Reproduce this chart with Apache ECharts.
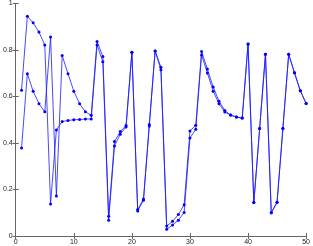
<!DOCTYPE html>
<html>
<head>
<meta charset="utf-8">
<script src="https://cdn.jsdelivr.net/npm/echarts@6/dist/echarts.min.js"></script>
<style>html,body{margin:0;padding:0;background:#fff;}#c{width:313px;height:246px;}</style>
</head>
<body>
<div id="c"></div>
<script>
var xValues = [1,2,3,4,5,6,7,8,9,10,11,12,13,14,15,16,17,18,19,20,21,22,23,24,25,26,27,28,29,30,31,32,33,34,35,36,37,38,39,40,41,42,43,44,45,46,47,48,49,50];
var seriesA = [0.627,0.945,0.917,0.877,0.822,0.138,0.456,0.492,0.497,0.500,0.501,0.503,0.503,0.822,0.749,0.068,0.387,0.438,0.469,0.790,0.108,0.154,0.473,0.796,0.715,0.029,0.047,0.068,0.101,0.421,0.459,0.779,0.701,0.623,0.569,0.533,0.520,0.512,0.507,0.826,0.144,0.462,0.782,0.100,0.145,0.462,0.782,0.702,0.625,0.570];
var seriesB = [0.378,0.698,0.623,0.569,0.534,0.856,0.172,0.776,0.698,0.623,0.569,0.534,0.519,0.837,0.772,0.085,0.406,0.449,0.475,0.790,0.114,0.159,0.480,0.796,0.726,0.043,0.063,0.092,0.134,0.452,0.476,0.794,0.718,0.641,0.580,0.540,0.520,0.512,0.507,0.826,0.144,0.462,0.782,0.100,0.145,0.462,0.782,0.702,0.625,0.570];
var xTicks = [0,10,20,30,40,50];
var yTicks = [0,0.2,0.4,0.6,0.8,1];

function pairs(vals){ return xValues.map(function(x,i){ return [x, vals[i]]; }); }

var axisCol = '#666';
var labelStyle = {color:'#222', fontSize:7, fontFamily:'Liberation Sans, Arial, sans-serif'};
var chart = echarts.init(document.getElementById('c'), null, {renderer:'canvas'});
var lineStyle = {color:'#1a1aff', width:0.8};
function mkSeries(vals){
  return {type:'line', data:pairs(vals), xAxisIndex:0, yAxisIndex:0, symbol:'circle', symbolSize:3,
    itemStyle:{color:'#0000ff'}, lineStyle:lineStyle, animation:false, emphasis:{disabled:true}};
}
chart.setOption({
  animation:false,
  grid:{left:12.5, right:3.7, top:1.5, bottom:10, containLabel:false},
  xAxis:[
    {type:'value', min:xTicks[0], max:xTicks[xTicks.length-1], interval:10, position:'bottom',
     axisLine:{show:true, lineStyle:{color:axisCol, width:1}}, axisTick:{show:true, inside:true, length:3, lineStyle:{color:axisCol}},
     axisLabel:Object.assign({margin:3}, labelStyle), splitLine:{show:false}},
    {type:'value', min:xTicks[0], max:xTicks[xTicks.length-1], interval:10, position:'top',
     axisLine:{show:true, lineStyle:{color:axisCol, width:1}}, axisTick:{show:true, inside:true, length:3, lineStyle:{color:axisCol}},
     axisLabel:{show:false}, splitLine:{show:false}}
  ],
  yAxis:[
    {type:'value', min:yTicks[0], max:yTicks[yTicks.length-1], interval:0.2, position:'left',
     axisLine:{show:true, lineStyle:{color:axisCol, width:1}}, axisTick:{show:true, inside:true, length:3, lineStyle:{color:axisCol}},
     axisLabel:Object.assign({margin:3}, labelStyle), splitLine:{show:false}},
    {type:'value', min:yTicks[0], max:yTicks[yTicks.length-1], interval:0.2, position:'right',
     axisLine:{show:true, lineStyle:{color:axisCol, width:1}}, axisTick:{show:true, inside:true, length:3, lineStyle:{color:axisCol}},
     axisLabel:{show:false}, splitLine:{show:false}}
  ],
  series:[mkSeries(seriesA), mkSeries(seriesB)]
});
</script>
</body>
</html>
